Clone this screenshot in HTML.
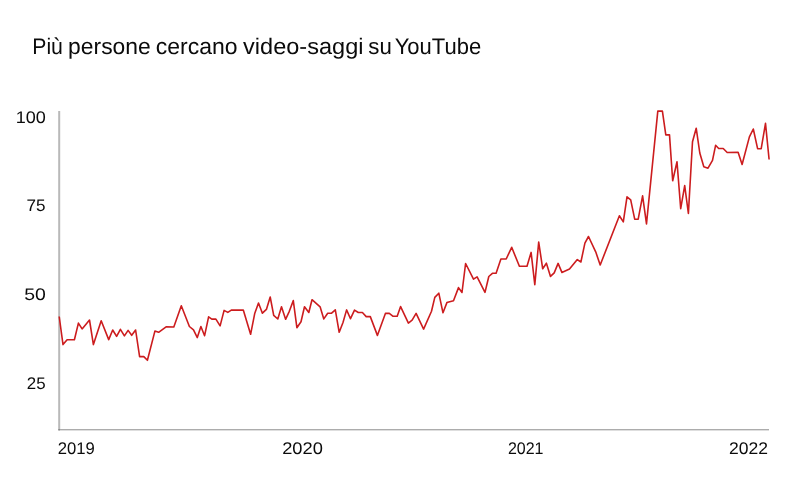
<!DOCTYPE html>
<html><head><meta charset="utf-8">
<style>
html,body{margin:0;padding:0;background:#fff;}
body{width:794px;height:478px;overflow:hidden;position:relative;font-family:"Liberation Sans",sans-serif;}
svg{position:absolute;left:0;top:0;will-change:transform;}
</style></head>
<body>
<svg width="794" height="478" viewBox="0 0 794 478">
<rect width="794" height="478" fill="#fff"/>
<g font-family="Liberation Sans" text-rendering="geometricPrecision" fill="#0b0b0b">
<g><text x="32.30" y="53.60" font-size="22.6" textLength="30.60" lengthAdjust="spacingAndGlyphs">Più</text>
<text x="68.10" y="53.60" font-size="22.6" textLength="82.60" lengthAdjust="spacingAndGlyphs">persone</text>
<text x="155.80" y="53.60" font-size="22.6" textLength="81.80" lengthAdjust="spacingAndGlyphs">cercano</text>
<text x="243.10" y="53.60" font-size="22.6" textLength="120.40" lengthAdjust="spacingAndGlyphs">video-saggi</text>
<text x="368.30" y="53.60" font-size="22.6" textLength="23.50" lengthAdjust="spacingAndGlyphs">su</text>
<text x="394.70" y="53.60" font-size="22.6" textLength="86.50" lengthAdjust="spacingAndGlyphs">YouTube</text></g>
<text x="15.80" y="123.45" font-size="16.8" textLength="30.10" lengthAdjust="spacingAndGlyphs">100</text>
<text x="26.60" y="211.15" font-size="16.8" textLength="19.00" lengthAdjust="spacingAndGlyphs">75</text>
<text x="24.20" y="300.00" font-size="16.8" textLength="21.60" lengthAdjust="spacingAndGlyphs">50</text>
<text x="26.80" y="389.00" font-size="16.8" textLength="18.80" lengthAdjust="spacingAndGlyphs">25</text>
<text x="57.80" y="454.30" font-size="16.8" textLength="37.10" lengthAdjust="spacingAndGlyphs">2019</text>
<text x="282.20" y="454.30" font-size="16.8" textLength="40.70" lengthAdjust="spacingAndGlyphs">2020</text>
<text x="507.90" y="454.30" font-size="16.8" textLength="35.60" lengthAdjust="spacingAndGlyphs">2021</text>
<text x="729.00" y="454.30" font-size="16.8" textLength="39.00" lengthAdjust="spacingAndGlyphs">2022</text>
</g>
<rect x="58" y="111" width="1" height="318" fill="#c6c6c6"/>
<rect x="59" y="111" width="1" height="318" fill="#b9b9b9"/>
<rect x="60" y="111" width="0.2" height="318" fill="#b9b9b9"/>
<rect x="58" y="429" width="711" height="1.4" fill="#acacac"/>
<rect x="58.5" y="429" width="1.5" height="1.4" fill="#8a8a8a"/>
<polyline points="59.2,316.5 63.0,344.6 67.1,339.8 74.4,339.8 78.4,323.1 82.1,328.9 89.5,320.0 93.4,344.6 101.2,320.7 108.7,339.6 112.7,330.0 116.6,336.4 120.4,329.3 124.4,335.9 128.1,330.4 131.7,335.3 135.6,330.0 139.6,356.6 143.8,356.6 147.4,360.3 154.9,331.1 158.6,332.3 166.1,326.8 173.8,327.0 181.3,305.8 189.4,326.5 193.5,329.8 197.3,337.6 200.9,326.5 204.6,335.7 208.6,316.9 211.8,319.1 215.9,319.1 220.1,325.9 224.1,310.4 227.8,312.4 231.3,310.1 243.3,310.1 250.6,334.3 254.8,313.2 258.5,303.0 262.4,313.2 266.4,309.4 270.2,297.0 273.7,315.3 277.8,319.0 281.5,306.8 285.6,319.3 289.3,311.3 293.3,300.6 296.9,327.7 301.0,321.7 304.5,306.8 308.8,312.5 312.0,299.7 320.1,306.8 323.8,318.9 327.7,313.2 331.6,313.2 335.3,309.9 339.2,332.3 343.0,322.5 346.6,309.9 350.5,318.7 354.5,310.1 358.3,312.5 362.4,312.5 366.2,316.6 370.3,316.6 377.4,335.4 381.2,325.0 385.4,313.4 389.3,313.4 393.1,316.3 397.2,316.3 400.6,306.6 408.4,323.1 412.1,320.2 416.1,313.4 423.6,329.1 431.5,311.2 434.8,297.4 438.8,293.2 443.0,312.8 446.9,302.6 453.5,300.8 458.5,287.6 462.0,292.5 465.6,263.5 473.5,279.2 477.1,276.9 485.0,292.4 488.8,276.5 492.4,273.3 496.1,273.3 500.9,259.0 506.2,259.0 511.7,247.3 519.4,266.3 527.0,266.3 531.1,252.4 534.8,284.7 538.7,242.0 542.7,268.8 546.4,263.2 550.5,276.4 554.2,272.9 558.1,263.4 561.9,272.4 569.5,269.1 577.3,259.6 580.9,262.0 584.9,243.2 588.5,236.5 595.8,252.1 600.2,265.0 619.4,215.8 623.3,221.9 627.0,196.8 630.7,199.8 634.7,219.2 638.2,219.2 642.6,195.9 646.5,223.9 657.8,111.1 662.4,111.1 665.8,134.9 669.5,134.9 672.7,180.8 677.0,161.7 680.7,208.6 684.7,185.6 688.4,213.5 692.5,141.7 696.2,128.2 699.8,153.0 703.8,166.7 708.0,168.2 712.5,160.3 715.6,145.3 718.7,148.5 723.2,148.5 727.2,152.5 738.1,152.3 742.1,164.5 749.4,136.9 753.3,129.0 757.6,148.7 761.2,148.7 765.5,123.4 769.1,159.5" fill="none" stroke="#cc1c1e" stroke-width="1.6" stroke-linejoin="round"/>
</svg>
</body></html>
